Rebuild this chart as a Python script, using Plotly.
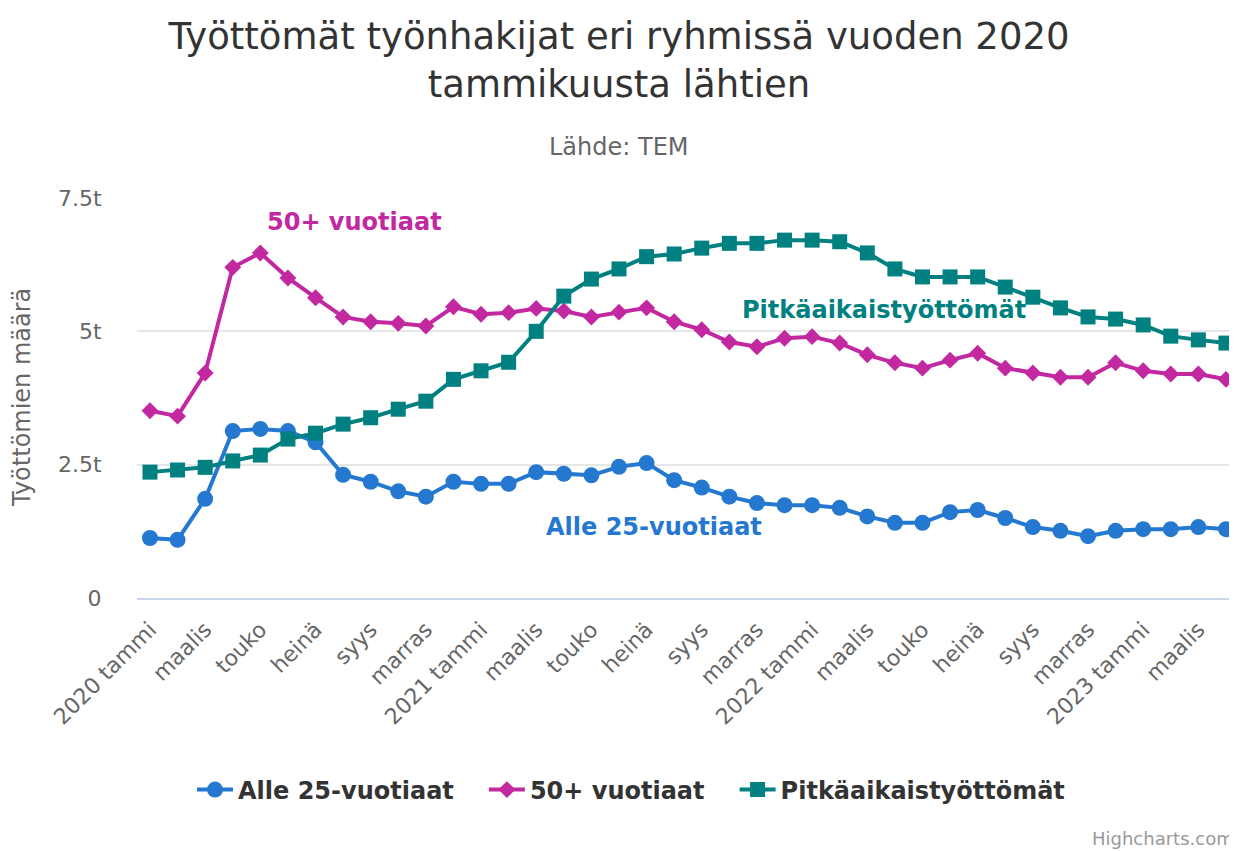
import plotly.graph_objects as go

# Month labels (Jan 2020 - Apr 2023)
months = [
    "2020 tammi", "helmi", "maalis", "huhti", "touko", "kesä", "heinä", "elo", "syys", "loka", "marras", "joulu",
    "2021 tammi", "helmi", "maalis", "huhti", "touko", "kesä", "heinä", "elo", "syys", "loka", "marras", "joulu",
    "2022 tammi", "helmi", "maalis", "huhti", "touko", "kesä", "heinä", "elo", "syys", "loka", "marras", "joulu",
    "2023 tammi", "helmi", "maalis", "huhti",
]

alle25 = [1125, 1090, 1860, 3130, 3170, 3130, 2920, 2310, 2180, 2000, 1900, 2180,
          2140, 2140, 2360, 2330, 2300, 2460, 2530, 2210, 2070, 1900, 1780, 1740,
          1740, 1690, 1530, 1410, 1410, 1610, 1650, 1500, 1330, 1260, 1160, 1260,
          1290, 1290, 1330, 1290]

yli50 = [3510, 3410, 4220, 6200, 6470, 6000, 5630, 5270, 5180, 5150, 5100, 5460,
         5320, 5350, 5430, 5380, 5270, 5360, 5440, 5180, 5030, 4800, 4710, 4870,
         4900, 4780, 4560, 4410, 4310, 4460, 4590, 4310, 4220, 4140, 4140, 4410,
         4260, 4200, 4200, 4100]

pitka = [2360, 2400, 2450, 2570, 2680, 2980, 3090, 3260, 3380, 3540, 3690, 4100,
         4260, 4420, 5000, 5660, 5980, 6170, 6400, 6450, 6560, 6650, 6650, 6710,
         6710, 6680, 6470, 6170, 6020, 6020, 6020, 5830, 5640, 5440, 5270, 5230,
         5120, 4910, 4840, 4780]

series_names = ["Alle 25-vuotiaat", "50+ vuotiaat", "Pitkäaikaistyöttömät"]
y_tickvals = [0, 2500, 5000, 7500]
y_ticktext = ["0", "2.5t", "5t", "7.5t"]

BLUE = "#2478cf"
MAGENTA = "#c2289f"
TEAL = "#008080"
FONT = "DejaVu Sans"

# the page body has an 8px default margin; compensate so the chart fills the window
OFF = 8
W, H = 1237 - OFF, 851 - OFF
PLOT_TOP, PLOT_BOTTOM, PLOT_LEFT = 198, 598, 137   # window pixels


def cy(py):  # window pixel y -> container fraction
    return 1 - (py - OFF) / H


def py_paper(py):  # window pixel y -> paper fraction
    return (PLOT_BOTTOM - py) / (PLOT_BOTTOM - PLOT_TOP)


def px_paper(px):
    return (px - PLOT_LEFT) / (1237 - PLOT_LEFT)


x = list(range(len(months)))
gap = "\u00a0\u00a0\u00a0"

fig = go.Figure()
fig.add_trace(go.Scatter(x=x, y=alle25, name=series_names[0] + gap, mode="lines+markers",
                         line=dict(color=BLUE, width=4),
                         marker=dict(symbol="circle", size=16, color=BLUE)))
fig.add_trace(go.Scatter(x=x, y=yli50, name=series_names[1] + gap, mode="lines+markers",
                         line=dict(color=MAGENTA, width=4),
                         marker=dict(symbol="diamond", size=13, color=MAGENTA)))
fig.add_trace(go.Scatter(x=x, y=pitka, name=series_names[2], mode="lines+markers",
                         line=dict(color=TEAL, width=4),
                         marker=dict(symbol="square", size=15, color=TEAL)))

fig.update_layout(
    width=W, height=H,
    margin=dict(l=PLOT_LEFT - OFF, r=0, t=PLOT_TOP - OFF, b=851 - PLOT_BOTTOM),
    paper_bgcolor="white", plot_bgcolor="white",
    font=dict(family=FONT, color="#666666", size=22),
    title=dict(text="Työttömät työnhakijat eri ryhmissä vuoden 2020<br>tammikuusta lähtien",
               x=(619 - OFF) / W, xref="container", xanchor="center",
               y=cy(49), yref="container", yanchor="top",
               font=dict(family=FONT, size=37, color="#333333")),
    showlegend=True,
    legend=dict(orientation="h", x=(631 - OFF) / W, xref="container", xanchor="center",
                y=cy(790), yref="container", yanchor="middle",
                font=dict(family=FONT, size=24, color="#333333", weight="bold"),
                itemwidth=36, tracegroupgap=0),
    xaxis=dict(range=[-0.47, 39.4], tickmode="array",
               tickvals=x[::2], ticktext=months[::2], tickangle=-45,
               showgrid=False, zeroline=False,
               showline=True, linecolor="#ccd6eb", linewidth=2,
               ticks="outside", ticklen=8, tickcolor="rgba(0,0,0,0)",
               tickfont=dict(family=FONT, size=22, color="#666666")),
    yaxis=dict(range=[0, 7500], tickmode="array", tickvals=y_tickvals, ticktext=y_ticktext,
               showgrid=True, gridcolor="#e6e6e6", gridwidth=2, zeroline=False,
               ticks="outside", ticklen=30, tickcolor="rgba(0,0,0,0)",
               tickfont=dict(family=FONT, size=22, color="#666666")),
)

annotations = [
    dict(text="Lähde: TEM", xref="paper", yref="paper", x=px_paper(619), y=py_paper(147),
         xanchor="center", yanchor="middle", showarrow=False,
         font=dict(family=FONT, size=24, color="#666666")),
    dict(text="Työttömien määrä", xref="paper", yref="paper", x=px_paper(22), y=py_paper(398),
         xanchor="center", yanchor="middle", textangle=-90, showarrow=False,
         font=dict(family=FONT, size=24, color="#666666")),
    dict(text="50+ vuotiaat", xref="x", yref="y", x=7.43, y=7050,
         xanchor="center", yanchor="middle", showarrow=False,
         font=dict(family=FONT, size=24, color=MAGENTA, weight="bold")),
    dict(text="Pitkäaikaistyöttömät", xref="x", yref="y", x=26.6, y=5400,
         xanchor="center", yanchor="middle", showarrow=False,
         font=dict(family=FONT, size=24, color=TEAL, weight="bold")),
    dict(text="Alle 25-vuotiaat", xref="x", yref="y", x=18.27, y=1330,
         xanchor="center", yanchor="middle", showarrow=False,
         font=dict(family=FONT, size=24, color=BLUE, weight="bold")),
    dict(text="Highcharts.com", xref="paper", yref="paper", x=px_paper(1090),
         y=py_paper(838), xanchor="left", yanchor="middle", showarrow=False,
         font=dict(family=FONT, size=18, color="#999999")),
]
fig.update_layout(annotations=annotations)

fig.write_html("out.html")
